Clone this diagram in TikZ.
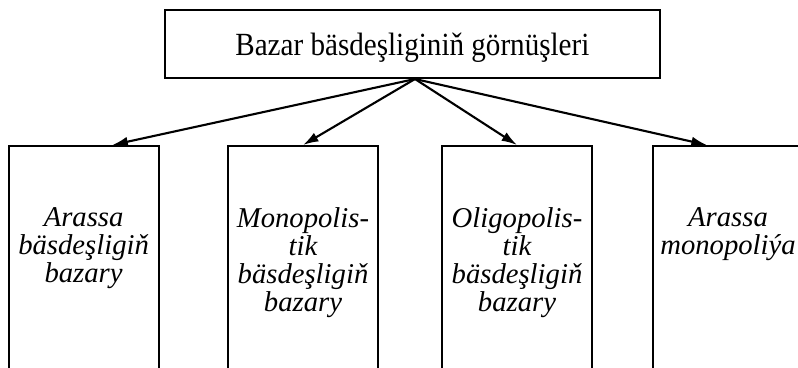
\documentclass[tikz,border=0pt]{standalone}
\usepackage{fontspec}
\setmainfont{Liberation Serif}
\newfontfamily\headfont{Liberation Serif}[FakeStretch=0.9]
\usetikzlibrary{positioning,arrows.meta}
\begin{document}
\begin{tikzpicture}[line width=1.5pt,
            head/.style={draw, rectangle, minimum width=12.375cm, minimum height=1.7cm, inner sep=0pt, text height=17pt, text depth=0pt, font=\headfont\fontsize{23}{26}\selectfont},
            box/.style={draw, rectangle, anchor=north, minimum width=3.75cm, minimum height=6cm},
            txt/.style={anchor=north, inner sep=0pt, align=center, font=\fontsize{20.4}{19.9}\selectfont\itshape}]
            \useasboundingbox (0,0) rectangle (19.95,-9.175);
            \clip (0,0) rectangle (19.95,-9.175);
            \node[head] (kinds) at (10.31,-1.1) {Bazar bäsdeşliginiň görnüşleri};
            \coordinate (hub) at (10.375,-1.975);

            \node[box] (perfect) at (2.09,-3.625) {};
            \node[box] (monop) at (7.575,-3.625) {};
            \node[box] (oligop) at (12.925,-3.625) {};
            \node[box] (pure) at (18.2,-3.625) {};

            \node[txt, below=1.55cm of perfect.north] (perfectT) {Arassa\\bäsdeşligiň\\bazary};
            \node[txt, below=1.55cm of monop.north] (monopT) {Monopolis-\\tik\\bäsdeşligiň\\bazary};
            \node[txt, below=1.55cm of oligop.north] (oligopT) {Oligopolis-\\tik\\bäsdeşligiň\\bazary};
            \node[txt, below=1.55cm of pure.north] (pureT) {Arassa\\monopoliýa};

            \draw[-{Latex[length=11pt, width=7pt]}] (hub) -- ([xshift=0.72cm]perfect.north);
            \draw[-{Latex[length=11pt, width=7pt]}] (hub) -- (monop.north);
            \draw[-{Latex[length=11pt, width=7pt]}] (hub) -- (oligop.north);
            \draw[-{Latex[length=11pt, width=7pt]}] (hub) -- ([xshift=-0.53cm]pure.north);
        \end{tikzpicture}
\end{document}
